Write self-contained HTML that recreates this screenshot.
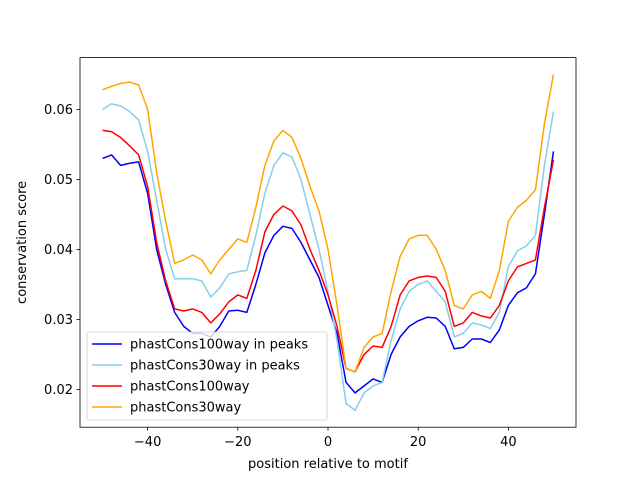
<!DOCTYPE html>
<html><head><meta charset="utf-8"><style>
body{margin:0;background:#fff}
svg{font-family:"DejaVu Sans","Liberation Sans",sans-serif}
</style></head><body>
<svg id="chart" width="640" height="480" xmlns="http://www.w3.org/2000/svg">
<rect width="640" height="480" fill="#fff"/>
<g id="lines"></g>
<g id="axes"></g>
</svg>
<script>
const xs = [-50,-48,-46,-44,-42,-40,-38,-36,-34,-32,-30,-28,-26,-24,-22,-20,-18,-16,-14,-12,-10,-8,-6,-4,-2,0,2,4,6,8,10,12,14,16,18,20,22,24,26,28,30,32,34,36,38,40,42,44,46,48,50];
const blueVals = [0.053,0.0535,0.052,0.0523,0.0525,0.048,0.040,0.035,0.031,0.029,0.028,0.028,0.0275,0.029,0.0312,0.0313,0.031,0.035,0.0395,0.042,0.0433,0.043,0.041,0.0385,0.036,0.032,0.028,0.021,0.0195,0.0205,0.0215,0.021,0.025,0.0275,0.029,0.0298,0.0303,0.0302,0.029,0.0258,0.026,0.0272,0.0272,0.0267,0.0285,0.032,0.0338,0.0345,0.0365,0.045,0.054];
const skyVals = [0.060,0.0608,0.0605,0.0597,0.0585,0.054,0.047,0.040,0.0358,0.0358,0.0358,0.0355,0.0332,0.0345,0.0365,0.0368,0.037,0.042,0.048,0.052,0.0538,0.0532,0.050,0.045,0.040,0.034,0.027,0.018,0.017,0.0195,0.0205,0.021,0.027,0.0315,0.034,0.035,0.0355,0.034,0.0325,0.0275,0.028,0.0295,0.0292,0.0287,0.031,0.0375,0.0398,0.0405,0.042,0.052,0.0597];
const redVals = [0.057,0.0568,0.056,0.0548,0.0535,0.049,0.041,0.0355,0.0315,0.0312,0.0315,0.031,0.0295,0.0308,0.0325,0.0335,0.033,0.037,0.0425,0.045,0.0462,0.0455,0.0435,0.040,0.037,0.0335,0.029,0.023,0.0225,0.025,0.0262,0.026,0.029,0.0335,0.0355,0.036,0.0362,0.036,0.034,0.029,0.0295,0.031,0.0305,0.0302,0.032,0.0355,0.0375,0.038,0.0385,0.046,0.0528];
const orangeVals = [0.0628,0.0633,0.0637,0.0639,0.0635,0.060,0.051,0.044,0.038,0.0385,0.0392,0.0385,0.0365,0.0385,0.040,0.0415,0.041,0.046,0.052,0.0555,0.057,0.056,0.053,0.049,0.0455,0.040,0.032,0.023,0.0225,0.026,0.0275,0.028,0.034,0.039,0.0415,0.042,0.042,0.040,0.037,0.032,0.0315,0.0335,0.034,0.033,0.037,0.044,0.046,0.047,0.0485,0.058,0.065];
const seriesNames = ["phastCons100way in peaks","phastCons30way in peaks","phastCons100way","phastCons30way"];
const xTicks = [-40,-20,0,20,40];
const yTicks = [0.02,0.03,0.04,0.05,0.06];

const NS="http://www.w3.org/2000/svg";
const L=80,R=576,T=57.6,B=427.2;
const all=[].concat(blueVals,skyVals,redVals,orangeVals);
const xmin=Math.min(...xs),xmax=Math.max(...xs);
const ymin=Math.min(...all),ymax=Math.max(...all);
const xpad=(xmax-xmin)*0.05,ypad=(ymax-ymin)*0.05;
const X=v=>L+(v-(xmin-xpad))/((xmax+xpad)-(xmin-xpad))*(R-L);
const Y=v=>B-(v-(ymin-ypad))/((ymax+ypad)-(ymin-ypad))*(B-T);
function mk(t,a,p){const e=document.createElementNS(NS,t);for(const k in a)e.setAttribute(k,a[k]);p.appendChild(e);return e;}
const lines=document.getElementById('lines'),axes=document.getElementById('axes');
const series=[[blueVals,'#0000ff','line-phastcons100way-in-peaks'],[skyVals,'#87ceeb','line-phastcons30way-in-peaks'],[redVals,'#ff0000','line-phastcons100way'],[orangeVals,'#ffa500','line-phastcons30way']];
series.forEach(s=>{
  const d=s[0].map((v,i)=>(i?'L':'M')+X(xs[i]).toFixed(2)+','+Y(v).toFixed(2)).join(' ');
  const p=mk('path',{d:d,fill:'none',stroke:s[1],'stroke-width':1.5,'stroke-linejoin':'round'},lines);
  
  
});
const frame=mk('rect',{x:L,y:T,width:R-L,height:B-T,fill:'none',stroke:'#000','stroke-width':0.8},axes);


xTicks.forEach(t=>{
  const x=X(t);
  mk('line',{x1:x,x2:x,y1:B,y2:B+3.5,stroke:'#000','stroke-width':0.8},axes);
  const tx=mk('text',{x:x,y:B+19,'font-size':13,'text-anchor':'middle',fill:'#000'},axes);
  tx.textContent=(t<0?'\u2212'+(-t):t);
  
  
});
yTicks.forEach(t=>{
  const y=Y(t);
  mk('line',{x1:L,x2:L-3.5,y1:y,y2:y,stroke:'#000','stroke-width':0.8},axes);
  const tx=mk('text',{x:L-7,y:y+4.5,'font-size':13,'text-anchor':'end',fill:'#000'},axes);
  tx.textContent=t.toFixed(2);
  
  
});
const xl=mk('text',{x:(L+R)/2,y:468,'font-size':13,'text-anchor':'middle'},axes);
xl.textContent='position relative to motif';


const yl=mk('text',{x:0,y:0,'font-size':13,'text-anchor':'middle',transform:'translate(26,'+((T+B)/2)+') rotate(-90)'},axes);
yl.textContent='conservation score';


const lg=mk('g',{},axes);


mk('rect',{x:87,y:332,width:240,height:88,rx:2,fill:'#fff','fill-opacity':0.8,stroke:'#ccc','stroke-width':0.8},lg);
series.forEach((s,i)=>{
  const y=344+i*21;
  const ln=mk('line',{x1:92,x2:122,y1:y,y2:y,stroke:s[1],'stroke-width':1.5},lg);
  
  
  const tx=mk('text',{x:130,y:y+4.5,'font-size':13},lg);
  tx.textContent=seriesNames[i];
  
  
});
</script>
</body></html>
